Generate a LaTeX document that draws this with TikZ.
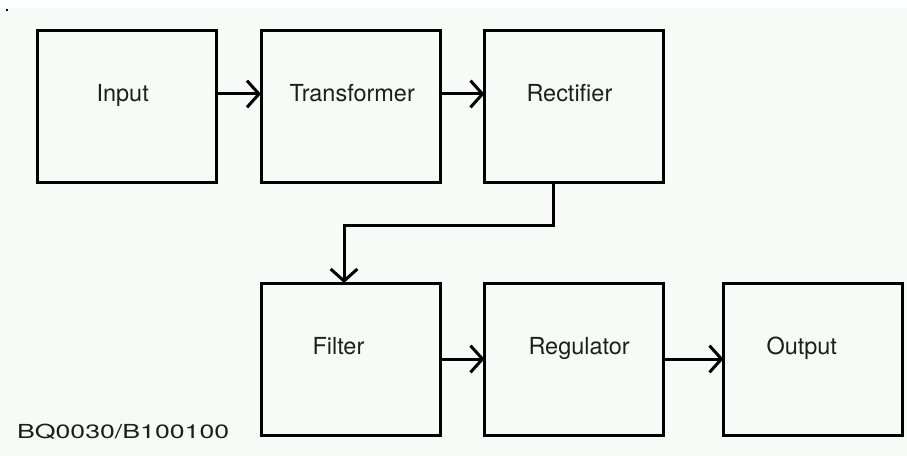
\documentclass[tikz,border=0pt]{standalone}
\usepackage{fontspec}
\setmainfont{TeX Gyre Heros}
\usetikzlibrary{arrows.meta,calc}
\definecolor{paper}{RGB}{247,251,247}
\definecolor{ink}{RGB}{30,30,30}

\begin{document}
\begin{tikzpicture}[x=0.75pt,y=-0.75pt,line width=2.25pt,
    >={Straight Barb[length=9pt,width=20pt]},
    block/.style={draw,minimum width=134.25pt,minimum height=114pt,inner sep=0pt,outer sep=0pt},
    lbl/.style={anchor=base west,inner sep=0pt,text=ink,font=\fontsize{17.6pt}{20pt}\selectfont}]
      \useasboundingbox (0,0) rectangle (907,456);
      \fill[white] (0,0) rectangle (907,456);
      \fill[paper] (0,8) rectangle (907,456);
      \fill[black] (6,9) rectangle (8,11);
      \node[block] (Input) at (127,106.5) {};
      \node[block] (Transformer) at (350.5,106.5) {};
      \node[block] (Rectifier) at (574,106.5) {};
      \node[block] (Filter) at (350.5,359) {};
      \node[block] (Regulator) at (574,359) {};
      \node[block] (Output) at (813,359) {};
      \node[lbl] (inputlbl) at (95,102) {Input};
      \node[lbl] (transformerlbl) at (288,102) {Transformer};
      \node[lbl] (rectifierlbl) at (525,102) {Rectifier};
      \node[lbl] (filterlbl) at (311,354) {Filter};
      \node[lbl] (regulatorlbl) at (527,354) {Regulator};
      \node[lbl] (outputlbl) at (765,354) {Output};
      \node[anchor=base west,inner sep=0pt,text=ink,xscale=1.38,
        font=\fontsize{14.5pt}{16pt}\selectfont] (code) at (15,438) {BQ0030/B100100};
      \draw[->] ($(Input.east)+(0,-12.5)$) -- ($(Transformer.west)+(0,-12.5)$);
      \draw[->] ($(Transformer.east)+(0,-12.5)$) -- ($(Rectifier.west)+(0,-12.5)$);
      \draw[->] ($(Rectifier.south)+(-21,0)$) -- ++(0,43) -| ($(Filter.north)+(-6.5,0)$);
      \draw[->] (Filter) -- (Regulator);
      \draw[->] (Regulator) -- (Output);
    \end{tikzpicture}
\end{document}
